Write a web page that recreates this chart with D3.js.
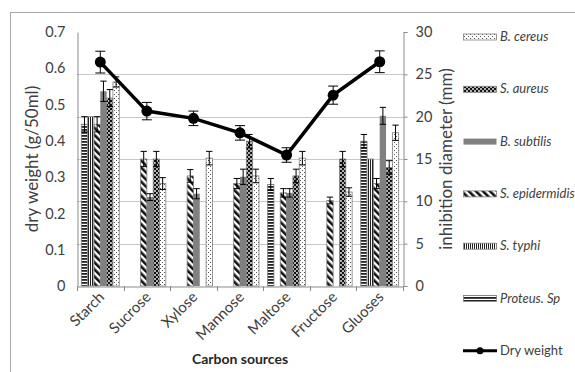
<!DOCTYPE html>
<html>
<head>
<meta charset="utf-8">
<script src="https://cdn.jsdelivr.net/npm/d3@7"></script>
<style>
  body { margin: 0; background: #fff; }
  svg text { font-family: Lato, "Open Sans", sans-serif; }
</style>
</head>
<body>
<svg id="svg" width="575" height="372"></svg>
<script>
const categories = ["Starch", "Sucrose", "Xylose", "Mannose", "Maltose", "Fructose", "Gluoses"]
const seriesNames = ["Proteus. Sp", "S. typhi", "S. epidermidis", "B. subtilis", "S. aureus", "B. cereus"]

// inhibition diameter (mm), right axis
const proteus = [19.1, 0, 0, 0, 12.0, 0, 17.1]
const typhi = [20.0, 0, 0, 0, 0, 0, 15.0]
const epidermidis = [19.1, 15.0, 13.0, 12.1, 11.0, 10.1, 12.1]
const subtilis = [23.0, 10.5, 10.9, 12.9, 11.0, 0, 20.1]
const aureus = [22.2, 15.0, 0, 17.1, 13.0, 15.0, 14.0]
const cereus = [24.1, 12.1, 15.1, 13.0, 15.1, 11.1, 18.1]

const proteusErr = [0.9, 0, 0, 0, 0.7, 0, 0.8]
const typhiErr = [0, 0, 0, 0, 0, 0, 0]
const epidermidisErr = [0.9, 0.9, 0.75, 0.6, 0.5, 0.4, 0.6]
const subtilisErr = [1.2, 0.4, 0.6, 0.9, 0.5, 0, 1.0]
const aureusErr = [1.0, 0.9, 0, 0.8, 0.8, 0.9, 0.8]
const cereusErr = [0.6, 0.7, 0.8, 0.8, 0.8, 0.5, 0.9]

// dry weight (g/50ml), left axis
const dryWeight = [0.617, 0.482, 0.462, 0.422, 0.361, 0.526, 0.618]
const dryWeightErr = [0.03, 0.024, 0.02, 0.02, 0.02, 0.025, 0.03]

const leftTicks = [0, 0.1, 0.2, 0.3, 0.4, 0.5, 0.6, 0.7]
const rightTicks = [0, 5, 10, 15, 20, 25, 30]

const seriesValues = [proteus, typhi, epidermidis, subtilis, aureus, cereus]
const seriesErrors = [proteusErr, typhiErr, epidermidisErr, subtilisErr, aureusErr, cereusErr]
const seriesFill = ["url(#p-proteus)", "url(#p-typhi)", "url(#p-epid)", "#808080", "url(#p-aureus)", "url(#p-cereus)"]

const svg = d3.select("#svg")
const plotL = 77, plotR = 403, plotT = 32, plotB = 286
const axisColor = "#8c8c8c", textColor = "#404040"

// patterns
const defs = svg.append("defs")
let p = defs.append("pattern").attr("id", "p-proteus").attr("patternUnits", "userSpaceOnUse").attr("width", 4).attr("height", 3)
p.append("rect").attr("width", 4).attr("height", 3).attr("fill", "#fff")
p.append("rect").attr("width", 4).attr("height", 1.8).attr("fill", "#222")

p = defs.append("pattern").attr("id", "p-typhi").attr("patternUnits", "userSpaceOnUse").attr("width", 2).attr("height", 4)
p.append("rect").attr("width", 2).attr("height", 4).attr("fill", "#fff")
p.append("rect").attr("width", 1).attr("height", 4).attr("fill", "#222")

p = defs.append("pattern").attr("id", "p-epid").attr("patternUnits", "userSpaceOnUse").attr("width", 5).attr("height", 5)
  .attr("patternTransform", "rotate(-45)")
p.append("rect").attr("width", 5).attr("height", 5).attr("fill", "#fff")
p.append("rect").attr("width", 2.6).attr("height", 5).attr("fill", "#111")

p = defs.append("pattern").attr("id", "p-aureus").attr("patternUnits", "userSpaceOnUse").attr("width", 4).attr("height", 4)
p.append("rect").attr("width", 4).attr("height", 4).attr("fill", "#111")
p.append("circle").attr("cx", 1).attr("cy", 1).attr("r", 0.9).attr("fill", "#fff")
p.append("circle").attr("cx", 3).attr("cy", 3).attr("r", 0.9).attr("fill", "#fff")

p = defs.append("pattern").attr("id", "p-cereus").attr("patternUnits", "userSpaceOnUse").attr("width", 4).attr("height", 4)
p.append("rect").attr("width", 4).attr("height", 4).attr("fill", "#fff")
p.append("rect").attr("x", 0).attr("y", 0).attr("width", 1).attr("height", 1).attr("fill", "#555")
p.append("rect").attr("x", 2).attr("y", 2).attr("width", 1).attr("height", 1).attr("fill", "#555")

// outer chart border
svg.append("rect").attr("x", 10.5).attr("y", 12.5).attr("width", 700).attr("height", 500)
  .attr("fill", "none").attr("stroke", "#a6a6a6")

const x0 = d3.scaleBand().domain(categories).range([plotL, plotR]).padding(0)
const x1 = d3.scaleBand().domain(seriesNames).range([0, x0.bandwidth()]).paddingInner(0).paddingOuter(0.68)
const yR = d3.scaleLinear().domain([0, 30]).range([plotB, plotT])
const yL = d3.scaleLinear().domain([0, 0.7]).range([plotB, plotT])

// gridlines
svg.append("g").selectAll("line").data(rightTicks.filter(t => t > 0 && t < 30)).enter().append("line")
  .attr("x1", plotL).attr("x2", plotR).attr("y1", d => Math.round(yR(d)) + 0.5).attr("y2", d => Math.round(yR(d)) + 0.5)
  .attr("stroke", "#c8c8c8")

// bars
const bw = x1.bandwidth()
const barData = []
seriesValues.forEach((vals, si) => {
  vals.forEach((v, ci) => {
    if (v > 0) barData.push({s: si, c: ci, v: v, e: seriesErrors[si][ci]})
  })
})
svg.append("g").selectAll("rect").data(barData).enter().append("rect")
  .attr("x", d => x0(categories[d.c]) + x1(seriesNames[d.s]))
  .attr("y", d => yR(d.v))
  .attr("width", bw)
  .attr("height", d => plotB - yR(d.v))
  .attr("fill", d => seriesFill[d.s])
  .attr("stroke", d => d.s === 3 ? "none" : "#808080")
  .attr("stroke-width", 0.8)

// bar error bars
const eg = svg.append("g").attr("stroke", "#000").attr("stroke-width", 1)
barData.filter(d => d.e > 0).forEach(d => {
  const cx = x0(categories[d.c]) + x1(seriesNames[d.s]) + bw / 2
  const y1 = yR(d.v + d.e), y2 = yR(d.v - d.e)
  eg.append("line").attr("x1", cx).attr("x2", cx).attr("y1", y1).attr("y2", y2)
  eg.append("line").attr("x1", cx - bw / 2).attr("x2", cx + bw / 2).attr("y1", y1).attr("y2", y1)
  eg.append("line").attr("x1", cx - bw / 2).attr("x2", cx + bw / 2).attr("y1", y2).attr("y2", y2)
})

// axes
const axisL = svg.append("g").attr("transform", `translate(${plotL + 0.5},0)`)
  .call(d3.axisLeft(yL).tickValues(leftTicks).tickSize(0).tickPadding(12).tickFormat(d => d === 0 ? "0" : d3.format(".1f")(d)))
const axisR = svg.append("g").attr("transform", `translate(${plotR + 0.5},0)`)
  .call(d3.axisRight(yR).tickValues(rightTicks).tickSize(4).tickPadding(8))
const axisB = svg.append("g").attr("transform", `translate(0,${plotB + 0.5})`)
  .call(d3.axisBottom(x0).tickSize(0).tickFormat(""))
svg.append("g").selectAll("line").data(d3.range(categories.length + 1)).enter().append("line")
  .attr("x1", i => Math.round(plotL + i * x0.step()) + 0.5).attr("x2", i => Math.round(plotL + i * x0.step()) + 0.5)
  .attr("y1", plotB).attr("y2", plotB + 5).attr("stroke", axisColor)

for (const a of [axisL, axisR, axisB]) {
  a.select(".domain").attr("stroke", axisColor)
  a.selectAll(".tick line").attr("stroke", axisColor)
  a.selectAll("text").attr("fill", textColor).style("font-size", "14.5px")
}

// category labels
svg.append("g").selectAll("text").data(categories).enter().append("text")
  .attr("transform", d => `translate(${x0(d) + x0.bandwidth() / 2 + 5},${plotB + 12}) rotate(-45)`)
  .attr("text-anchor", "end").attr("fill", textColor).style("font-size", "15px")
  .text(d => d)

// titles
svg.append("text").attr("x", (plotL + plotR) / 2).attr("y", 364).attr("text-anchor", "middle")
  .attr("fill", "#262626").style("font-size", "14px").style("font-weight", "bold").text("Carbon sources")
svg.append("text").attr("transform", `translate(38,${(plotT + plotB) / 2}) rotate(-90)`).attr("text-anchor", "middle")
  .attr("fill", textColor).style("font-size", "17px").text("dry weight (g/50ml)")
svg.append("text").attr("transform", `translate(452,${(plotT + plotB) / 2}) rotate(-90)`).attr("text-anchor", "middle")
  .attr("fill", textColor).style("font-size", "17px").text("inhibition diameter (mm)")

// dry weight line
const cxOf = (c) => x0(c) + x0.bandwidth() / 2
const line = d3.line().x((d, i) => cxOf(categories[i])).y(d => yL(d))
svg.append("path").datum(dryWeight).attr("d", line).attr("fill", "none").attr("stroke", "#000").attr("stroke-width", 3.5)
const lg = svg.append("g").attr("stroke", "#000").attr("stroke-width", 1)
dryWeight.forEach((v, i) => {
  const cx = cxOf(categories[i])
  const y1 = yL(v + dryWeightErr[i]), y2 = yL(v - dryWeightErr[i])
  lg.append("line").attr("x1", cx).attr("x2", cx).attr("y1", y1).attr("y2", y2)
  lg.append("line").attr("x1", cx - 5).attr("x2", cx + 5).attr("y1", y1).attr("y2", y1)
  lg.append("line").attr("x1", cx - 5).attr("x2", cx + 5).attr("y1", y2).attr("y2", y2)
})
svg.append("g").selectAll("circle").data(dryWeight).enter().append("circle")
  .attr("cx", (d, i) => cxOf(categories[i])).attr("cy", d => yL(d)).attr("r", 5.5).attr("fill", "#000")

// legend
const legendOrder = [5, 4, 3, 2, 1, 0]
const legend = svg.append("g")
legendOrder.forEach((si, k) => {
  const y = 37 + k * 52.3
  legend.append("rect").attr("x", 463.5).attr("y", y - 3).attr("width", 33).attr("height", 6)
    .attr("fill", seriesFill[si]).attr("stroke", si === 3 ? "none" : "#808080").attr("stroke-width", 0.8)
  legend.append("text").attr("x", 500).attr("y", y + 4).attr("fill", textColor)
    .style("font-size", "13px").style("font-style", "italic").text(seriesNames[si])
})
const ly = 37 + 6 * 52.3
legend.append("line").attr("x1", 463).attr("x2", 497).attr("y1", ly).attr("y2", ly).attr("stroke", "#000").attr("stroke-width", 3)
legend.append("circle").attr("cx", 480).attr("cy", ly).attr("r", 3.5).attr("fill", "#000")
legend.append("text").attr("x", 500).attr("y", ly + 4).attr("fill", textColor).style("font-size", "13px").text("Dry weight")
</script>
</body>
</html>
